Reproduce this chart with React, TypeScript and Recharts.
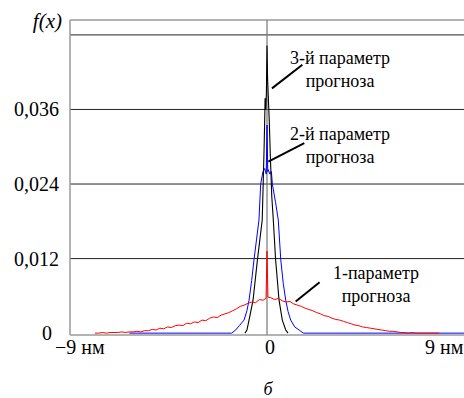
import React from 'react';
import { LineChart, Line, XAxis, YAxis, ReferenceLine } from 'recharts';

// Series 1 (red): "1-параметр прогноза"
const redX = [-9.0,-8.8,-8.6,-8.4,-8.2,-8.0,-7.8,-7.6,-7.4,-7.2,-7.0,-6.8,-6.6,-6.4,-6.2,-6.0,-5.8,-5.6,-5.4,-5.2,-5.0,-4.8,-4.6,-4.4,-4.2,-4.0,-3.8,-3.6,-3.4,-3.2,-3.0,-2.8,-2.6,-2.4,-2.2,-2.0,-1.8,-1.6,-1.4,-1.2,-1.0,-0.8,-0.6,-0.4,-0.2,-0.05,0,0.05,0.2,0.4,0.6,0.8,1.0,1.2,1.4,1.6,1.8,2.0,2.2,2.4,2.6,2.8,3.0,3.2,3.4,3.6,3.8,4.0,4.2,4.4,4.6,4.8,5.0,5.2,5.4,5.6,5.8,6.0,6.2,6.4,6.6,6.8,7.0,7.2,7.4,7.6,7.8,8.0,9.0];
const redY = [0.0000,0.0000,0.0001,0.0000,0.0001,0.0001,0.0001,0.0002,0.0001,0.0002,0.0002,0.0003,0.0002,0.0004,0.0004,0.0006,0.0005,0.0008,0.0007,0.0010,0.0009,0.0012,0.0013,0.0012,0.0016,0.0015,0.0018,0.0017,0.0021,0.0020,0.0024,0.0026,0.0025,0.0029,0.0031,0.0033,0.0036,0.0039,0.0043,0.0045,0.0048,0.0050,0.0049,0.0054,0.0053,0.0056,0.0132,0.0058,0.0057,0.0054,0.0056,0.0052,0.0050,0.0051,0.0047,0.0045,0.0043,0.0040,0.0038,0.0036,0.0033,0.0031,0.0028,0.0027,0.0024,0.0022,0.0021,0.0019,0.0017,0.0015,0.0013,0.0012,0.0010,0.0009,0.0008,0.0007,0.0006,0.0005,0.0004,0.0003,0.0003,0.0002,0.0001,0.0001,0.0000,0.0001,0.0000,0.0000,0.0000];

// Series 2 (blue): "2-й параметр прогноза"
const blueX = [-7.2,-1.85,-1.64,-1.45,-1.2,-1.05,-0.94,-0.8,-0.68,-0.55,-0.42,-0.33,-0.21,-0.12,-0.04,0,0.04,0.07,0.14,0.23,0.28,0.45,0.59,0.72,0.85,0.98,1.1,1.24,1.45,1.68,1.9,10.3];
const blueY = [0,0,0.0005,0.0012,0.0021,0.0036,0.0053,0.0085,0.0118,0.015,0.0182,0.024,0.026,0.0265,0.0256,0.0335,0.026,0.0263,0.0256,0.026,0.024,0.021,0.0182,0.0118,0.008,0.0053,0.0035,0.0021,0.001,0.0005,0,0];

// Series 3 (black): "3-й параметр прогноза"
const blackX = [-1.15,-1.05,-0.94,-0.73,-0.5,-0.25,-0.2,-0.15,-0.11,-0.1,-0.06,-0.03,0,0.03,0.12,0.18,0.25,0.33,0.45,0.63,0.8,0.98,1.1];
const blackY = [0,0.0005,0.0021,0.0053,0.0118,0.0182,0.024,0.03,0.036,0.0378,0.036,0.039,0.0463,0.041,0.034,0.028,0.022,0.0182,0.0118,0.0053,0.0021,0.0005,0];

const xTicks = [-9, 0, 9];
const xTickLabels = ['\u22129 нм', '0', '9 нм'];
const yTicks = [0, 0.012, 0.024, 0.036];
const gridValues = [0.012, 0.024, 0.036, 0.048];

const redData = redX.map((x, i) => ({ x, y: redY[i] }));
const blueData = blueX.map((x, i) => ({ x, y: blueY[i] }));
const blackData = blackX.map((x, i) => ({ x, y: blackY[i] }));

const FONT = 'Liberation Serif, Times New Roman, DejaVu Serif, serif';
const txt: React.CSSProperties = { fontFamily: FONT, fontSize: 18 };
const tickTxt: React.CSSProperties = { fontFamily: FONT, fontSize: 20 };
const txtI: React.CSSProperties = { fontFamily: FONT, fontSize: 18, fontStyle: 'italic' };
const AXIS_GRAY = '#9a9a9a';

const fmtY = (v: number) => (v === 0 ? '0' : v.toFixed(3).replace('.', ','));

const YTick = (props: any) => {
  const { y, payload } = props;
  const v = payload.value;
  return (
    <text x={v === 0 ? 52 : 59} y={y} dy={7} textAnchor="end" style={tickTxt} fill="#000">
      {fmtY(v)}
    </text>
  );
};

const XTick = (props: any) => {
  const { x, payload } = props;
  const idx = xTicks.indexOf(payload.value);
  const dx = idx === 0 ? -15 : idx === 2 ? 5 : 3;
  return (
    <text x={x + dx} y={354} textAnchor="middle" style={tickTxt} fill="#000">
      {xTickLabels[idx]}
    </text>
  );
};

const annotations = [
  { lines: ['3-й параметр', 'прогноза'], x: 340, y: 64 },
  { lines: ['2-й параметр', 'прогноза'], x: 340, y: 140 },
  { lines: ['1-параметр', 'прогноза'], x: 376, y: 279 },
];

const pointers = [
  { from: { x: 0.26, y: 0.0394 }, to: { x: 1.85, y: 0.0432 } },
  { from: { x: 0.07, y: 0.0276 }, to: { x: 1.95, y: 0.0306 } },
  { from: { x: 1.5, y: 0.0051 }, to: { x: 2.75, y: 0.0082 } },
];

export default function App() {
  return (
    <div style={{ position: 'absolute', left: 0, top: 0, width: 464, height: 398, background: '#fff' }}>
      <LineChart width={464} height={398} margin={{ top: 20, right: 0, bottom: 33, left: 0 }}>
        <XAxis
          type="number"
          dataKey="x"
          domain={[-10.3, 10.3]}
          ticks={xTicks}
          allowDataOverflow
          axisLine={{ stroke: AXIS_GRAY, strokeWidth: 1.5 }}
          tickLine={false}
          tick={<XTick />}
          height={30}
        />
        <YAxis
          type="number"
          dataKey="y"
          domain={[-0.0003, 0.0504]}
          ticks={yTicks}
          allowDataOverflow
          axisLine={{ stroke: AXIS_GRAY, strokeWidth: 1.5 }}
          tickLine={false}
          tick={<YTick />}
          width={70}
        />
        {gridValues.map((g) => (
          <ReferenceLine key={g} y={g} stroke="#222" strokeWidth={1} />
        ))}
        <ReferenceLine y={0.0504} stroke={AXIS_GRAY} strokeWidth={1.5} />
        <ReferenceLine x={0} stroke="#777" strokeWidth={1.2} />
        <Line data={blueData} dataKey="y" type="linear" stroke="#0000ff" strokeWidth={1} dot={false} isAnimationActive={false} />
        <Line data={blackData} dataKey="y" type="linear" stroke="#000" strokeWidth={1.1} dot={false} isAnimationActive={false} />
        <Line data={redData} dataKey="y" type="linear" stroke="#ff0000" strokeWidth={1} dot={false} isAnimationActive={false} />
        {pointers.map((p, i) => (
          <ReferenceLine key={i} segment={[p.from, p.to]} stroke="#000" strokeWidth={2} />
        ))}
      </LineChart>
      <svg width={464} height={398} style={{ position: 'absolute', left: 0, top: 0, pointerEvents: 'none' }}>
        <text x={62} y={28} textAnchor="end" style={{ ...txtI, fontSize: 21 }}>f(x)</text>
        {annotations.map((a, i) => (
          <g key={i}>
            <text x={a.x} y={a.y} textAnchor="middle" style={txt}>{a.lines[0]}</text>
            <text x={a.x} y={a.y + 23} textAnchor="middle" style={txt}>{a.lines[1]}</text>
          </g>
        ))}
        <text x={268} y={395} textAnchor="middle" style={txtI}>б</text>
      </svg>
    </div>
  );
}
